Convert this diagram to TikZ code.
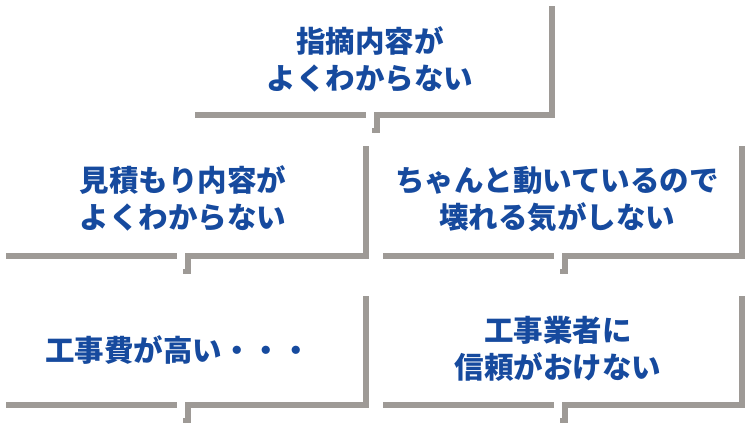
\documentclass[tikz,border=0pt]{standalone}
\usepackage{fontspec}
\newfontfamily\jpbold{Noto Sans CJK JP Black}
\usepackage{tikz}
\usetikzlibrary{shapes, positioning}
\definecolor{frame}{RGB}{158,154,150}
\definecolor{ink}{RGB}{22,74,158}
\tikzstyle{t}     = [text=ink, align=center, font=\jpbold\fontsize{29.5}{37}\selectfont, inner sep=0pt]
\tikzstyle{bar}   = [draw=frame, line width=6pt, line cap=butt, line join=miter]

\begin{document}
\begin{tikzpicture}[x=1pt, y=-1pt]

\useasboundingbox (0,0) rectangle (746,424);

% frames: left, right, top, bottom
\foreach \l/\r/\t/\b in {195/552/6/115, 6/366/146/256, 383/742/146/256, 6/366/296/405, 383/742/296/405} {
  \draw [bar] (\l,\b) -- (\l+171,\b);
  \draw [bar] (\l+182,\b+18) -- (\l+182,\b) -- (\r,\b) -- (\r,\t);
  \fill [frame] (\l+177,\b+13) rectangle (\l+179,\b+18);
}

% nodes
\node [t] at ( 370 ,  60 ) (unclear)  {指摘内容が\\よくわからない};
\node [t] at ( 183 , 199 ) (estimate) {見積もり内容が\\よくわからない};
\node [t] at ( 557 , 199 ) (broken)   {ちゃんと動いているので\\壊れる気がしない};
\node [t] at ( 178 , 350 ) (cost)     {工事費が高い・・・};
\node [t] at ( 558 , 349 ) (trust)    {工事業者に\\信頼がおけない};

\end{tikzpicture}
\end{document}
